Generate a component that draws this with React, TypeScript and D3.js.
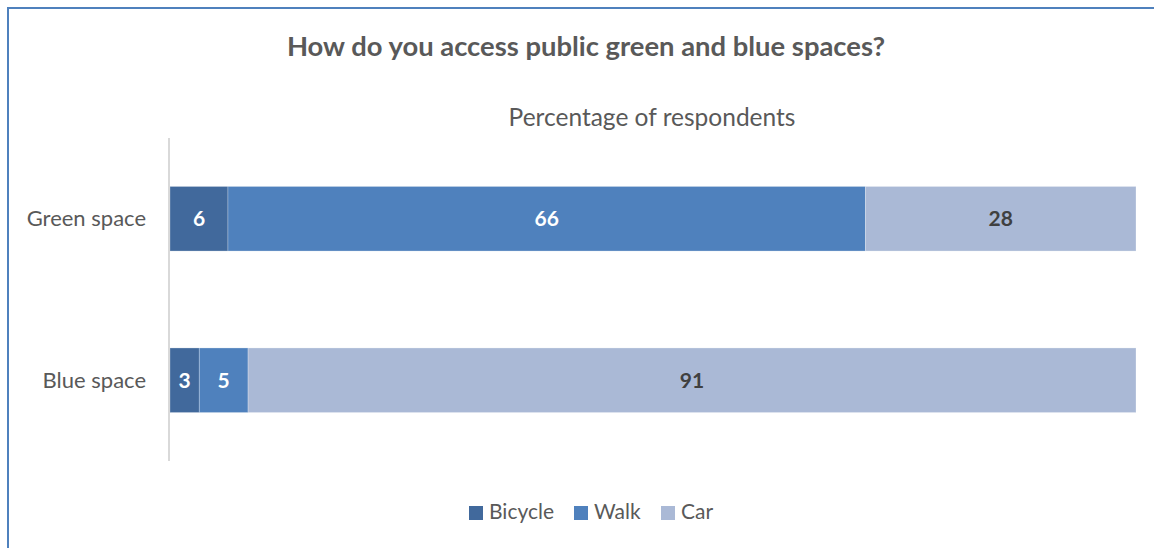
import React from "react";
import * as d3 from "d3";

const categories = ["Green space", "Blue space"];
const seriesNames = ["Bicycle", "Walk", "Car"];
const bicycle = [6, 3];
const walk = [66, 5];
const car = [28, 91];
const colors = ["#41699c", "#4f81bd", "#aab9d6"];
const labelColors = ["#ffffff", "#ffffff", "#404040"];

const W = 1154;
const H = 548;
const FONT = "Lato, 'Open Sans', sans-serif";

export default function App() {
  const rows = categories.map((c, i) => ({ cat: c, Bicycle: bicycle[i], Walk: walk[i], Car: car[i] }));
  const stack = d3.stack<any>().keys(seriesNames).offset(d3.stackOffsetExpand);
  const layers = stack(rows);
  const x = d3.scaleLinear().domain([0, 1]).range([170, 1136]);
  const y = d3.scaleBand().domain(categories).range([138, 461]).paddingInner(0.6).paddingOuter(0.3);

  const legendX = [469, 574, 661];

  return (
    <svg width={W} height={H} style={{ position: "absolute", left: 0, top: 0 }} fontFamily={FONT}>
      <rect x={0} y={0} width={W} height={H} fill="#ffffff" />
      <rect x={8} y={8} width={1300} height={700} fill="none" stroke="#4f81bd" strokeWidth={2} />
      <text x={586} y={56} textAnchor="middle" fontSize={27.4} fontWeight="bold" fill="#595959">
        How do you access public green and blue spaces?
      </text>
      <text x={652} y={126} textAnchor="middle" fontSize={24.5} fill="#595959">
        Percentage of respondents
      </text>
      {layers.map((layer, si) =>
        layer.map((d, ci) => (
          <g key={`${si}-${ci}`}>
            <rect
              x={x(d[0])}
              y={y(categories[ci])}
              width={x(d[1]) - x(d[0])}
              height={y.bandwidth()}
              fill={colors[si]}
              stroke="#ffffff"
              strokeOpacity={0.35}
              strokeWidth={0.75}
            />
            <text
              x={(x(d[0]) + x(d[1])) / 2}
              y={(y(categories[ci]) as number) + y.bandwidth() / 2}
              dy="0.35em"
              textAnchor="middle"
              fontSize={21}
              fontWeight="bold"
              fill={labelColors[si]}
            >
              {[bicycle, walk, car][si][ci]}
            </text>
          </g>
        ))
      )}
      <line x1={169} x2={169} y1={138} y2={461} stroke="#d9d9d9" strokeWidth={2} />
      {categories.map((c) => (
        <text
          key={c}
          x={146}
          y={(y(c) as number) + y.bandwidth() / 2}
          dy="0.35em"
          textAnchor="end"
          fontSize={22}
          fill="#595959"
        >
          {c}
        </text>
      ))}
      {seriesNames.map((s, i) => (
        <g key={s}>
          <rect x={legendX[i]} y={506} width={14} height={14} fill={colors[i]} />
          <text x={legendX[i] + 20} y={519} fontSize={21} fill="#595959">
            {s}
          </text>
        </g>
      ))}
    </svg>
  );
}
